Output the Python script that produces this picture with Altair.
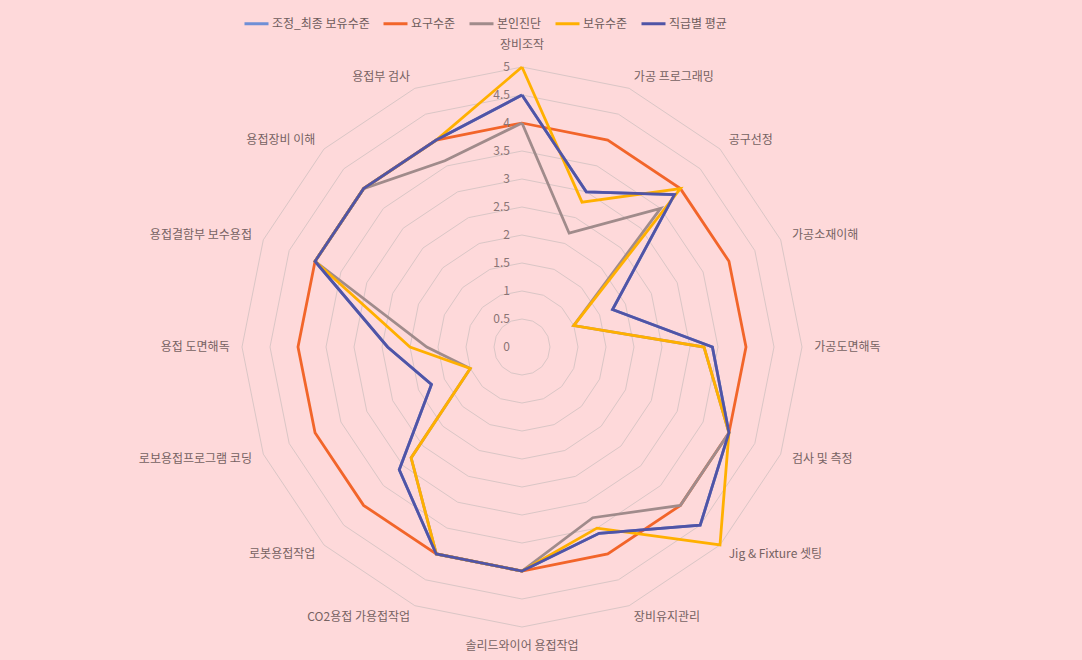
import altair as alt
import pandas as pd

categories = ["장비조작", "가공 프로그래밍", "공구선정", "가공소재이해", "가공도면해독",
              "검사 및 측정", "Jig & Fixture 셋팅", "장비유지관리", "솔리드와이어 용접작업",
              "CO2용접 가용접작업", "로봇용접작업", "로보용접프로그램 코딩", "용접 도면해독",
              "용접결함부 보수용접", "용접장비 이해", "용접부 검사"]

series_names = ["조정_최종 보유수준", "요구수준", "본인진단", "보유수준", "직급별 평균"]
adjusted_final = [4.5, 3, 3.85, 1.75, 3.4, 4, 4.5, 3.6, 4, 4, 3.1, 1.75, 2.4, 4, 4, 4]
required = [4, 4, 4, 4, 4, 4, 4, 4, 4, 4, 4, 4, 4, 4, 4, 4]
self_diag = [4, 2.2, 3.5, 1, 3.25, 4, 4, 3.3, 4, 4, 2.8, 1, 1.7, 4, 4, 3.6]
held = [5, 2.8, 4, 1, 3.25, 4, 5, 3.5, 4, 4, 2.8, 1, 2.0, 4, 4, 4]
rank_avg = [4.5, 3, 3.85, 1.75, 3.4, 4, 4.5, 3.6, 4, 4, 3.1, 1.75, 2.4, 4, 4, 4]
series_colors = ["#6f8fd6", "#f2652a", "#a08b8b", "#ffb000", "#5054a6"]

tick_values = [0, 0.5, 1, 1.5, 2, 2.5, 3, 3.5, 4, 4.5, 5]
grid_levels = [0.5, 1, 1.5, 2, 2.5, 3, 3.5, 4, 4.5, 5]

N = len(categories)

# layout (pixels)
W, H = 1082, 660
CX, CY, PX = 522, 347, 56.0

series_rows = []
for name, vals in zip(series_names, [adjusted_final, required, self_diag, held, rank_avg]):
    for i, v in enumerate(vals + [vals[0]]):
        series_rows.append({"series": name, "i": i, "v": v})
series_df = pd.DataFrame(series_rows)

grid_rows = []
for lv in grid_levels:
    for i in range(N + 1):
        grid_rows.append({"level": lv, "i": i, "v": lv})
grid_df = pd.DataFrame(grid_rows)

cat_df = pd.DataFrame({"cat": categories, "i": list(range(N))})
tick_df = pd.DataFrame({"v": tick_values, "i": [0] * len(tick_values),
                        "lab": [f"{t:g}" for t in tick_values]})

xs = alt.Scale(domain=[-CX / PX, (W - CX) / PX], nice=False, zero=False)
ys = alt.Scale(domain=[-(H - CY) / PX, CY / PX], nice=False, zero=False)

polar = dict(
    px=f"datum.v * sin(datum.i * 2 * PI / {N})",
    py=f"datum.v * cos(datum.i * 2 * PI / {N})",
)

X = alt.X("px:Q", scale=xs, axis=None)
Y = alt.Y("py:Q", scale=ys, axis=None)

grid = alt.Chart(grid_df).transform_calculate(**polar).mark_line(
    color="#dac6c6", strokeWidth=1
).encode(x=X, y=Y, detail="level:N", order="i:Q")

color_scale = alt.Scale(domain=series_names, range=series_colors)
legend = alt.Legend(
    orient="none", legendX=243, legendY=10, direction="horizontal", title=None,
    symbolType="stroke", symbolStrokeWidth=3, symbolSize=576,
    labelFont="Noto Sans CJK KR", labelFontSize=12, labelColor="#6e5c5c",
    columnPadding=7, labelOffset=2,
)

lines = []
for k, name in enumerate(series_names):
    enc = dict(x=X, y=Y, order="i:Q",
               color=alt.Color("series:N", scale=color_scale,
                               legend=legend if k == 0 else None))
    lines.append(
        alt.Chart(series_df).transform_filter(alt.datum.series == name)
        .transform_calculate(**polar)
        .mark_line(strokeWidth=2.8, strokeJoin="miter")
        .encode(**enc)
    )

ticks = alt.Chart(tick_df).transform_calculate(**polar).mark_text(
    align="right", baseline="middle", dx=-12, font="Noto Sans CJK KR",
    fontSize=12, color="#8a7474"
).encode(x=X, y=Y, text="lab:N")

LR = 5.22
cat_df["v"] = LR


def cat_layer(filt, align, baseline, dy=0):
    return alt.Chart(cat_df).transform_filter(filt).transform_calculate(**polar).mark_text(
        align=align, baseline=baseline, dy=dy, font="Noto Sans CJK KR", fontSize=12,
        color="#766262"
    ).encode(x=X, y=Y, text="cat:N")


labels_right = cat_layer("datum.i > 0 && datum.i < 8", "left", "middle")
labels_left = cat_layer("datum.i > 8", "right", "middle")
labels_top = cat_layer("datum.i == 0", "center", "bottom", -3)
labels_bottom = cat_layer("datum.i == 8", "center", "top", 2)

chart = alt.layer(grid, *lines, ticks, labels_right, labels_left, labels_top, labels_bottom).properties(
    width=W, height=H, padding=0,
    autosize=alt.AutoSizeParams(type="none"),
    background="#fed9da",
).configure_view(stroke=None)

chart.save("out.html", embed_options={"renderer": "svg", "actions": False})
